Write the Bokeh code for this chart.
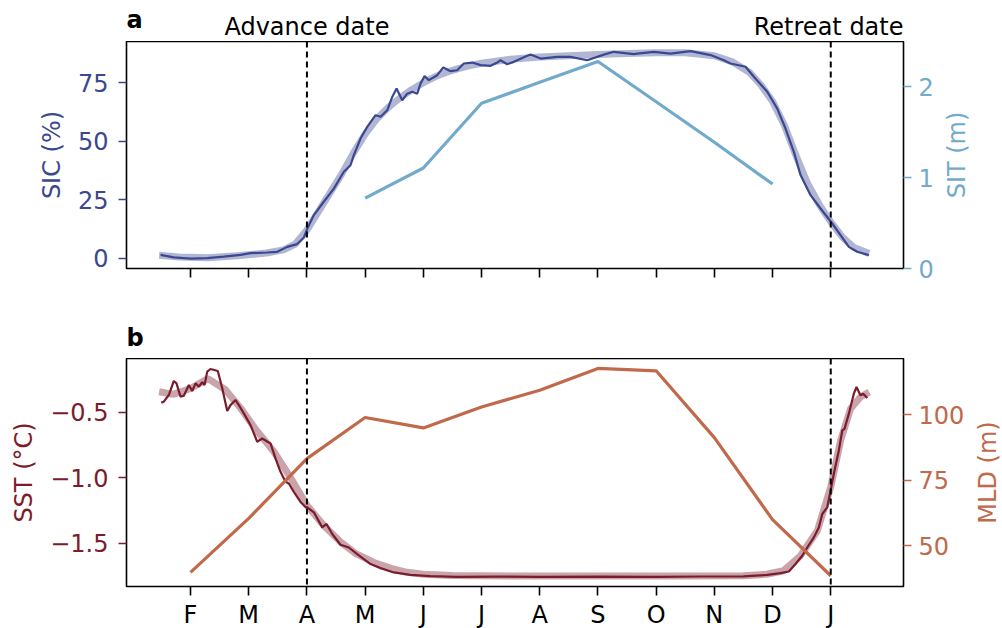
import math
from bokeh.plotting import figure
from bokeh.models import Range1d, LinearAxis, FixedTicker, Span, CustomJSTickFormatter
from bokeh.core.properties import value
from bokeh.layouts import column, row
from bokeh.embed import file_html
from bokeh.resources import INLINE

FONT = "DejaVu Sans"

# ---------------- data ----------------
month_ticks = [1, 2, 3, 4, 5, 6, 7, 8, 9, 10, 11, 12]
month_labels = ["F", "M", "A", "M", "J", "J", "A", "S", "O", "N", "D", "J"]
advance_date = 3
retreat_date = 12
advance_text = "Advance date"
retreat_text = "Retreat date"

# SIC daily (noisy) series, x in months since 1 Jan
sic_x = [0.485, 0.713, 1.000, 1.287, 1.572, 1.859, 2.031, 2.318, 2.490, 2.662, 2.833, 2.947,
         3.005, 3.119, 3.290, 3.462, 3.634, 3.749, 3.806, 3.921, 4.036, 4.179, 4.265, 4.380,
         4.466, 4.540, 4.637, 4.723, 4.809, 4.895, 4.952, 5.021, 5.095, 5.239, 5.342, 5.467,
         5.582, 5.696, 5.840, 5.983, 6.155, 6.270, 6.326, 6.441, 6.555, 6.785, 6.842, 7.014,
         7.301, 7.529, 7.816, 8.101, 8.273, 8.617, 8.675, 8.960, 9.247, 9.591, 9.935, 10.163,
         10.278, 10.536, 10.679, 10.909, 11.081, 11.223, 11.366, 11.481, 11.653, 11.825,
         12.026, 12.168, 12.311, 12.455, 12.655]
sic_daily = [1.4, 0.3, -0.2, 0.0, 0.6, 1.4, 2.1, 2.4, 2.7, 4.8, 6.0, 8.8,
             12.5, 18.4, 24.1, 29.7, 36.9, 39.7, 44.0, 51.1, 56.1, 61.1, 60.4, 63.2,
             68.9, 72.5, 67.5, 70.3, 71.1, 70.3, 74.6, 77.8, 76.1, 78.2, 81.5, 79.9,
             80.3, 83.2, 83.6, 82.5, 82.2, 83.6, 84.6, 82.9, 83.9, 86.5, 87.0, 85.3,
             86.0, 86.0, 84.6, 87.0, 88.2, 87.2, 87.4, 88.2, 87.4, 88.5, 86.8, 84.6,
             83.2, 81.8, 77.5, 71.1, 63.9, 55.4, 45.4, 35.5, 26.9, 21.2,
             14.8, 9.8, 4.8, 2.7, 1.3]

# SIC smoothed climatology
sic_smooth_x = [0.46, 0.8, 1.3, 1.8, 2.3, 2.6, 2.8, 3.0, 3.2, 3.4, 3.6, 3.8, 4.0, 4.2, 4.4,
                4.6, 4.8, 5.0, 5.2, 5.4, 5.6, 5.8, 6.0, 6.5, 7.0, 7.5, 8.0, 8.5, 9.0, 9.5,
                10.0, 10.3, 10.6, 10.8, 11.0, 11.2, 11.4, 11.6, 11.8, 12.0, 12.2, 12.4, 12.66]
sic_smooth = [1.2, 0.5, 0.2, 1.0, 2.2, 3.5, 6.0, 12.0, 20.0, 28.0, 36.0, 45.0, 53.0, 59.5, 64.5,
              68.5, 72.0, 75.0, 77.5, 79.5, 81.0, 82.3, 83.3, 85.0, 86.0, 86.5, 87.0, 87.5, 87.8, 87.8,
              86.5, 84.0, 79.5, 74.0, 67.0, 57.0, 44.0, 32.0, 23.0, 15.5, 9.0, 4.5, 2.0]

# SIT monthly (m)
sit_x = [4, 5, 6, 7, 8, 9, 10, 11]
sit_m = [0.775, 1.107, 1.82, 2.05, 2.28, 1.836, 1.39, 0.93]

# SST daily (noisy)
sst_x = [0.497, 0.541, 0.627, 0.713, 0.759, 0.828, 0.885, 0.971, 1.029, 1.086, 1.143, 1.201,
         1.241, 1.287, 1.344, 1.469, 1.545, 1.631, 1.687, 1.773, 1.830, 1.916, 2.031, 2.146,
         2.232, 2.375, 2.460, 2.546, 2.632, 2.689, 2.775, 2.890, 2.976, 3.005, 3.119, 3.263,
         3.337, 3.435, 3.577, 3.720, 3.864, 4.093, 4.265, 4.493, 4.780, 5.124, 5.582, 6.2,
         7.0, 8.0, 9.0, 9.763, 10.5, 10.909, 11.137, 11.280, 11.395, 11.510, 11.596, 11.710,
         11.795, 11.854, 11.940, 11.997, 12.053, 12.139, 12.198, 12.237, 12.311, 12.397,
         12.443, 12.512, 12.558, 12.627]
sst_daily = [-0.428, -0.421, -0.370, -0.263, -0.281, -0.382, -0.375, -0.294, -0.340, -0.281,
             -0.306, -0.273, -0.294, -0.192, -0.172, -0.187, -0.319, -0.492, -0.447, -0.408,
             -0.447, -0.510, -0.599, -0.726, -0.701, -0.739, -0.853, -0.955, -1.031, -1.044,
             -1.108, -1.184, -1.222, -1.225, -1.263, -1.378, -1.352, -1.428, -1.510, -1.531,
             -1.581, -1.657, -1.688, -1.721, -1.739, -1.749, -1.754, -1.753, -1.754, -1.753,
             -1.754, -1.752, -1.751, -1.739, -1.726, -1.714, -1.657, -1.594, -1.531, -1.454,
             -1.378, -1.276, -1.225, -1.098, -0.970, -0.792, -0.640, -0.627, -0.512, -0.360,
             -0.309, -0.373, -0.360, -0.393]

# SST smoothed climatology
sst_smooth_x = [0.46, 0.7, 1.0, 1.3, 1.6, 1.86, 2.1, 2.43, 2.72, 3.0, 3.3, 3.58, 3.85, 4.15,
                4.45, 4.72, 5.0, 5.5, 6.5, 8.0, 9.5, 10.5, 10.9, 11.19, 11.48, 11.77, 12.0,
                12.17, 12.34, 12.51, 12.66]
sst_smooth = [-0.345, -0.365, -0.32, -0.245, -0.33, -0.47, -0.62, -0.80, -1.00, -1.21, -1.37,
              -1.49, -1.58, -1.645, -1.69, -1.72, -1.735, -1.745, -1.748, -1.748, -1.748,
              -1.746, -1.735, -1.708, -1.594, -1.403, -1.07, -0.716, -0.474, -0.385, -0.347]

# MLD monthly (m)
mld_x = [1, 2, 3, 4, 5, 6, 7, 8, 9, 10, 11, 12]
mld_m = [39.8, 60.4, 83.2, 98.9, 94.9, 102.9, 109.3, 117.6, 116.7, 91.2, 59.9, 38.5]

# ---------------- styling ----------------
SIC_C = "#3b4890"
SIT_C = "#71aaca"
SST_C = "#7b1c2d"
MLD_C = "#c0694b"
FS = "24px"

X_RANGE = (-0.10, 13.25)
FRAME_W = 777
LEFT = 126
TOTAL_W = 1002
TEXT_SHIFT = 7   # compensates the glyph text baseline placement


def style_axis(ax, color, label, tick_color=None):
    ax.axis_label = label
    ax.axis_label_text_font = FONT
    ax.axis_label_text_font_size = FS
    ax.axis_label_text_font_style = "normal"
    ax.axis_label_text_color = color
    ax.major_label_text_font = FONT
    ax.major_label_text_font_size = FS
    ax.major_label_text_color = color
    ax.major_tick_line_color = tick_color or color
    ax.major_tick_line_width = 1.6
    ax.major_tick_out = 8
    ax.major_tick_in = 0
    ax.minor_tick_line_color = None
    ax.axis_line_color = None
    ax.major_label_standoff = 10
    ax.axis_label_standoff = 9


def make_fig(yr, right, bottom, fh):
    p = figure(frame_width=FRAME_W, frame_height=fh,
               min_border_left=LEFT, min_border_right=right,
               min_border_top=0, min_border_bottom=bottom,
               x_range=Range1d(*X_RANGE), y_range=Range1d(*yr),
               output_backend="svg", toolbar_location=None,
               background_fill_color="white", border_fill_color="white",
               outline_line_color="black", outline_line_width=1.6)
    p.xgrid.grid_line_color = None
    p.ygrid.grid_line_color = None
    return p


def make_blank(fw, fh, left=0, right=0):
    hp = figure(frame_width=fw, frame_height=fh,
                min_border_left=left, min_border_right=right,
                min_border_top=0, min_border_bottom=0,
                x_range=Range1d(0, fw) if left == 0 else Range1d(*X_RANGE),
                y_range=Range1d(0, fh),
                x_axis_type=None, y_axis_type=None,
                output_backend="svg", toolbar_location=None,
                background_fill_color="white", border_fill_color="white",
                outline_line_color=None)
    return hp


def side_label(fw, fh, x, text, color):
    sp = make_blank(fw, fh)
    sp.text(x=[x], y=[fh / 2], text=[text], angle=math.pi / 2, text_font=value(FONT),
            text_font_size=value(FS), text_align="center", text_baseline="middle",
            text_color=color)
    return sp


minus_fmt = CustomJSTickFormatter(code="return tick.toFixed(1).replace('-', '\u2212');")

# ---------------- header a ----------------
ha = make_blank(FRAME_W, 41, left=LEFT, right=TOTAL_W - LEFT - FRAME_W)
ha.text(x=[X_RANGE[0]], y=[15 + TEXT_SHIFT], text=["a"], text_font=value(FONT),
        text_font_size=value(FS), text_font_style="bold", text_align="left",
        text_baseline="alphabetic", text_color="black")
ha.text(x=[advance_date], y=[7.7 + TEXT_SHIFT], text=[advance_text], text_font=value(FONT),
        text_font_size=value(FS), text_align="center", text_baseline="alphabetic",
        text_color="black")
ha.text(x=[X_RANGE[1]], y=[7.7 + TEXT_SHIFT], text=[retreat_text], text_font=value(FONT),
        text_font_size=value(FS), text_align="right", text_baseline="alphabetic",
        text_color="black")

# ---------------- panel a ----------------
RA = 32
pa = make_fig((-4.44, 92.6), RA, 32, 227)
pa.extra_y_ranges = {"sit": Range1d(0, 2.5)}

pa.line(sic_smooth_x, sic_smooth, line_color=SIC_C, line_alpha=0.4, line_width=7)
pa.line(sic_x, sic_daily, line_color=SIC_C, line_width=2.2)
pa.line(sit_x, sit_m, line_color=SIT_C, line_width=3.2, y_range_name="sit")

for d in (advance_date, retreat_date):
    pa.add_layout(Span(location=d, dimension="height", line_color="black",
                       line_width=2, line_dash="6 4"))

pa.xaxis.ticker = FixedTicker(ticks=month_ticks)
style_axis(pa.xaxis[0], "black", None)
pa.xaxis[0].major_label_text_font_size = "0px"
pa.xaxis[0].major_label_standoff = 0
pa.xaxis[0].major_tick_out = 9

pa.yaxis.ticker = FixedTicker(ticks=[0, 25, 50, 75])
style_axis(pa.yaxis[0], SIC_C, "SIC (%)")

sit_axis = LinearAxis(y_range_name="sit", ticker=FixedTicker(ticks=[0, 1, 2]))
style_axis(sit_axis, SIT_C, None)
sit_axis.major_label_standoff = 7
pa.add_layout(sit_axis, "right")

la_w = TOTAL_W - LEFT - FRAME_W - RA
la = side_label(la_w, 227, 955 - (LEFT + FRAME_W + RA), "SIT (m)", SIT_C)

# ---------------- header b ----------------
hb = make_blank(FRAME_W, 58, left=LEFT, right=TOTAL_W - LEFT - FRAME_W)
hb.text(x=[X_RANGE[0]], y=[13.7 + TEXT_SHIFT], text=["b"], text_font=value(FONT),
        text_font_size=value(FS), text_font_style="bold", text_align="left",
        text_baseline="alphabetic", text_color="black")

# ---------------- panel b ----------------
RB = 62
pb = make_fig((-1.828, -0.092), RB, 42, 228)
pb.extra_y_ranges = {"mld": Range1d(34.4, 121.4)}

pb.line(sst_smooth_x, sst_smooth, line_color=SST_C, line_alpha=0.4, line_width=7)
pb.line(sst_x, sst_daily, line_color=SST_C, line_width=2.2)
pb.line(mld_x, mld_m, line_color=MLD_C, line_width=3.2, y_range_name="mld")

for d in (advance_date, retreat_date):
    pb.add_layout(Span(location=d, dimension="height", line_color="black",
                       line_width=2, line_dash="6 4"))

pb.xaxis.ticker = FixedTicker(ticks=month_ticks)
pb.xaxis.major_label_overrides = {t: l for t, l in zip(month_ticks, month_labels)}
style_axis(pb.xaxis[0], "black", None)
pb.xaxis[0].major_label_standoff = 5
pb.xaxis[0].major_tick_out = 9

pb.yaxis.ticker = FixedTicker(ticks=[-1.5, -1.0, -0.5])
pb.yaxis.formatter = minus_fmt
style_axis(pb.yaxis[0], SST_C, "SST (°C)")

mld_axis = LinearAxis(y_range_name="mld", ticker=FixedTicker(ticks=[50, 75, 100]))
style_axis(mld_axis, MLD_C, None)
mld_axis.major_label_standoff = 7
pb.add_layout(mld_axis, "right")

lb_w = TOTAL_W - LEFT - FRAME_W - RB
lb = side_label(lb_w, 228, 985 - (LEFT + FRAME_W + RB), "MLD (m)", MLD_C)

layout = column(ha, row(pa, la, spacing=0), hb, row(pb, lb, spacing=0), spacing=0)
open("out.html", "w").write(file_html(layout, INLINE))
